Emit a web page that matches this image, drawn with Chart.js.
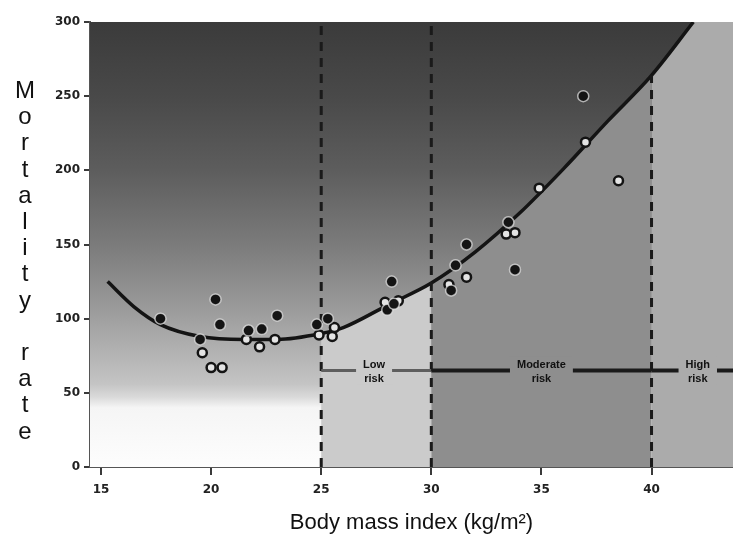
<!DOCTYPE html>
<html>
<head>
<meta charset="utf-8">
<script src="https://cdn.jsdelivr.net/npm/chart.js@4.4.0/dist/chart.umd.min.js"></script>
<style>
  html, body { margin: 0; padding: 0; background: #fff; }
  #wrap { width: 733px; height: 540px; }
</style>
</head>
<body>
<div id="wrap"><canvas id="chart" width="733" height="540"></canvas></div>
<script>
// Mortalidade x IMC: curva em U, pontos observados e faixas de risco.

const xTicks = [15, 20, 25, 30, 35, 40];
const yTicks = [0, 50, 100, 150, 200, 250, 300];

// curva ajustada
const curveBmi  = [15.3, 16.5, 17.7, 19.5, 21.5, 23.0, 25.0, 26.0, 28.0, 30.0, 32.0, 34.0, 36.0, 38.0, 40.0, 41.9];
const curveRate = [125, 108, 96, 88, 86, 86, 90, 94, 109, 124, 145, 171, 201, 233, 264, 300];

// pontos cheios
const filledBmi  = [17.7, 20.2, 20.4, 19.5, 21.7, 22.3, 23.0, 24.8, 25.3, 28.2, 28.0, 28.3, 31.6, 31.1, 30.9, 33.5, 33.8, 36.9];
const filledRate = [100, 113, 96, 86, 92, 93, 102, 96, 100, 125, 106, 110, 150, 136, 119, 165, 133, 250];

// pontos vazados
const openBmi  = [19.6, 20.0, 20.5, 21.6, 22.2, 22.9, 24.9, 25.5, 25.6, 27.9, 28.5, 31.6, 30.8, 33.4, 33.8, 34.9, 37.0, 38.5];
const openRate = [77, 67, 67, 86, 81, 86, 89, 88, 94, 111, 112, 128, 123, 157, 158, 188, 219, 193];

// faixas de risco
const riskCuts = [25, 30, 40];
const riskCutTops = [300, 300, 264];
const riskLevel = 65;
const riskLabels = [['Low', 'risk'], ['Moderate', 'risk'], ['High', 'risk']];
const riskLabelBmi = [27.4, 35.0, 42.1];

const yTitle = 'Mortality rate';
const xTitle = 'Body mass index (kg/m\u00B2)';

// estilos
const zoneColors = ['#cbcbcb', '#8e8e8e', '#ababab'];
const riskLineColors = ['#5e5e5e', '#1a1a1a', '#1a1a1a'];
const riskLineWidths = [3, 4, 4];
const shadeStops = [
    [0, '#fdfdfd'], [40, '#f5f5f5'], [47, '#dadada'], [56, '#c4c4c4'], [80, '#b0b0b0'],
    [110, '#989898'], [150, '#7b7b7b'], [200, '#5d5d5d'], [250, '#494949'], [300, '#3b3b3b'],
];

function shadeGradient(chart) {
    const { ctx, scales: { y } } = chart;
    const g = ctx.createLinearGradient(0, y.getPixelForValue(0), 0, y.getPixelForValue(300));
    shadeStops.forEach(([v, c]) => g.addColorStop(v / 300, c));
    return g;
}

const pts = (xs, ys) => xs.map((x, i) => ({ x, y: ys[i] }));

const backdrop = {
    id: 'backdrop',
    beforeDatasetsDraw(chart) {
        const { ctx, chartArea: a, scales: { x } } = chart;
        ctx.save();
        ctx.fillStyle = shadeGradient(chart);
        ctx.fillRect(a.left, a.top, a.width, a.height);
        riskCuts.forEach((cut, i) => {
            const x0 = x.getPixelForValue(cut);
            const x1 = i + 1 < riskCuts.length ? x.getPixelForValue(riskCuts[i + 1]) : a.right;
            ctx.fillStyle = zoneColors[i];
            ctx.fillRect(x0, a.top, x1 - x0, a.height);
        });
        ctx.restore();
    },
};

const riskBand = {
    id: 'riskBand',
    afterDatasetsDraw(chart) {
        const { ctx, chartArea: a, scales: { x, y } } = chart;
        const yl = y.getPixelForValue(riskLevel);
        ctx.save();
        riskCuts.forEach((cut, i) => {
            const x0 = x.getPixelForValue(cut);
            const x1 = i + 1 < riskCuts.length ? x.getPixelForValue(riskCuts[i + 1]) : a.right;
            ctx.strokeStyle = riskLineColors[i];
            ctx.lineWidth = riskLineWidths[i];
            ctx.beginPath();
            ctx.moveTo(x0, yl);
            ctx.lineTo(x1, yl);
            ctx.stroke();
        });
        ctx.font = "bold 11px 'Liberation Sans', sans-serif";
        ctx.textAlign = 'center';
        ctx.textBaseline = 'middle';
        riskLabels.forEach((lines, i) => {
            const cx = x.getPixelForValue(riskLabelBmi[i]);
            const w = Math.max(...lines.map((s) => ctx.measureText(s).width)) + 14;
            ctx.fillStyle = zoneColors[i];
            ctx.fillRect(cx - w / 2, yl - 14, w, 28);
            ctx.fillStyle = '#111';
            ctx.fillText(lines[0], cx, yl - 6);
            ctx.fillText(lines[1], cx, yl + 8);
        });
        ctx.restore();
    },
};

const stackedTitle = {
    id: 'stackedTitle',
    afterDraw(chart) {
        const { ctx } = chart;
        ctx.save();
        ctx.font = "24px 'Liberation Sans', Arial, sans-serif";
        ctx.fillStyle = '#111';
        ctx.textAlign = 'center';
        ctx.textBaseline = 'alphabetic';
        [...yTitle].forEach((ch, i) => ctx.fillText(ch, 25, 98 + i * 26.2));
        ctx.restore();
    },
};

const dashed = (i) => ({
    data: [{ x: riskCuts[i], y: 0 }, { x: riskCuts[i], y: riskCutTops[i] }],
    showLine: true,
    borderColor: '#1a1a1a',
    borderWidth: 3,
    borderDash: [9, 7],
    pointRadius: 0,
    order: 2,
});

new Chart(document.getElementById('chart'), {
    type: 'scatter',
    data: {
        datasets: [
            {
                data: pts(curveBmi, curveRate),
                showLine: true,
                cubicInterpolationMode: 'monotone',
                borderColor: '#141414',
                borderWidth: 3.5,
                pointRadius: 0,
                fill: 'end',
                backgroundColor: (c) => (c.chart.chartArea ? shadeGradient(c.chart) : 'transparent'),
                order: 3,
            },
            dashed(0),
            dashed(1),
            dashed(2),
            {
                data: pts(openBmi, openRate),
                pointRadius: 4.5,
                pointBackgroundColor: '#e4e4e4',
                pointBorderColor: '#141414',
                pointBorderWidth: 2.5,
                order: 1,
            },
            {
                data: pts(filledBmi, filledRate),
                pointRadius: 5.5,
                pointBackgroundColor: '#141414',
                pointBorderColor: 'rgba(235, 235, 235, 0.7)',
                pointBorderWidth: 1.5,
                order: 0,
            },
        ],
    },
    options: {
        responsive: false,
        animation: false,
        layout: { autoPadding: false, padding: { top: 22, left: 0, right: 0, bottom: 0 } },
        plugins: { legend: { display: false }, tooltip: { enabled: false } },
        scales: {
            x: {
                type: 'linear',
                min: 14.5,
                max: 43.7,
                z: 1,
                afterBuildTicks: (s) => { s.ticks = xTicks.map((v) => ({ value: v })); },
                afterFit: (s) => { s.height = 73; },
                grid: { drawOnChartArea: false, tickLength: 8, color: '#3a3a3a', lineWidth: 2 },
                border: { color: '#555', width: 2 },
                ticks: { color: '#222', padding: 8, font: { family: "'DejaVu Sans', sans-serif", size: 12, weight: 'bold' } },
                title: {
                    display: true,
                    text: xTitle,
                    color: '#111',
                    padding: { bottom: 4 },
                    font: { family: "'Liberation Sans', Arial, sans-serif", size: 22 },
                },
            },
            y: {
                min: 0,
                max: 300,
                z: 1,
                afterBuildTicks: (s) => { s.ticks = yTicks.map((v) => ({ value: v })); },
                afterFit: (s) => { s.width = 90; },
                grid: { drawOnChartArea: false, tickLength: 6, color: '#3a3a3a', lineWidth: 2 },
                border: { color: '#555', width: 2 },
                ticks: { color: '#222', padding: 4, font: { family: "'DejaVu Sans', sans-serif", size: 12, weight: 'bold' } },
            },
        },
    },
    plugins: [backdrop, riskBand, stackedTitle],
});
</script>
</body>
</html>
